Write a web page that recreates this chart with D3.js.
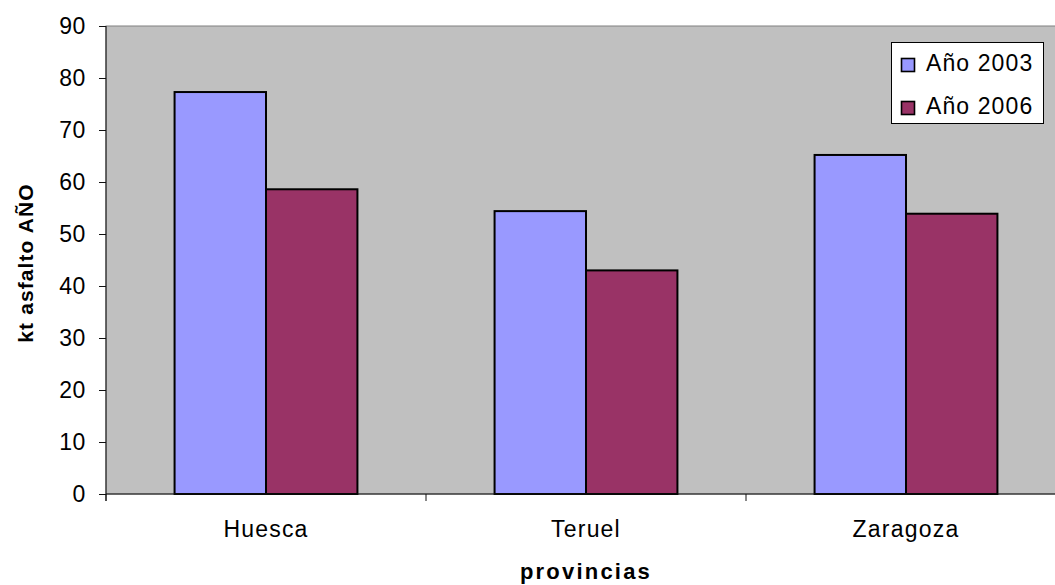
<!DOCTYPE html>
<html><head><meta charset="utf-8">
<script src="https://cdn.jsdelivr.net/npm/d3@7"></script>
<style>body{margin:0;background:#fff;overflow:hidden}text{font-family:"Liberation Sans",Arial,sans-serif}</style>
</head><body>
<svg id="c" width="1055" height="585"></svg>
<script>
const categories = ["Huesca", "Teruel", "Zaragoza"];
const seriesNames = ["Año 2003", "Año 2006"];
const values2003 = [77.3, 54.4, 65.2];
const values2006 = [58.6, 43.0, 53.9];
const yTicks = [0, 10, 20, 30, 40, 50, 60, 70, 80, 90];
const colors = ["#9999FF", "#993366"];
const series = [values2003, values2006];

const svg = d3.select("#c");
const L = 106, R = 1066, T = 26, B = 494;
const x = d3.scaleBand().domain(categories).range([L, R]).paddingInner(0).paddingOuter(0);
const y = d3.scaleLinear().domain([0, 90]).range([B, T]);
const bw = x.bandwidth() / 3.5;

svg.append("rect").attr("x", L).attr("y", T).attr("width", R - L).attr("height", B - T)
  .attr("fill", "#C0C0C0").attr("stroke", "#808080").attr("stroke-width", 1);

series.forEach((vals, si) => {
  svg.append("g").selectAll("rect").data(categories).join("rect")
    .attr("x", d => x(d) + x.bandwidth() / 2 - bw + si * bw)
    .attr("y", (d, i) => y(vals[i]))
    .attr("width", bw)
    .attr("height", (d, i) => B - y(vals[i]))
    .attr("fill", colors[si]).attr("stroke", "#000").attr("stroke-width", 2);
});

// y axis
const ya = svg.append("g").attr("transform", `translate(${L},0)`)
  .call(d3.axisLeft(y).tickValues(yTicks).tickSize(7).tickPadding(13));
ya.select(".domain").attr("stroke", "#111").attr("d", `M0,${B + 7}V${T}`);
ya.selectAll(".tick line").attr("stroke", "#111");
ya.selectAll("text").attr("font-size", 23).attr("fill", "#000").style("letter-spacing", "0.6px")
  .style("font-family", '"Liberation Sans",Arial,sans-serif');

// x axis
const xa = svg.append("g").attr("transform", `translate(0,${B})`);
xa.append("line").attr("x1", L).attr("x2", R).attr("stroke", "#111");
xa.selectAll("line.t").data(categories.concat(["end"])).join("line").attr("class", "t")
  .attr("x1", (d, i) => L + i * x.bandwidth()).attr("x2", (d, i) => L + i * x.bandwidth())
  .attr("y1", 0).attr("y2", 7).attr("stroke", "#111");
xa.selectAll("text").data(categories).join("text")
  .attr("x", d => x(d) + x.bandwidth() / 2).attr("y", 43)
  .attr("text-anchor", "middle").attr("font-size", 23).style("letter-spacing", "1.2px")
  .text(d => d);

// axis titles
svg.append("text").attr("x", (L + R) / 2).attr("y", 579).attr("text-anchor", "middle")
  .attr("font-size", 22).attr("font-weight", "bold").style("letter-spacing", "2.2px").text("provincias");
svg.append("text").attr("transform", `translate(33,${(T + B) / 2 + 3}) rotate(-90)`)
  .attr("text-anchor", "middle").attr("font-size", 21).attr("font-weight", "bold")
  .style("letter-spacing", "1.1px").text("kt asfalto AÑO");

// legend
const lg = svg.append("g");
lg.append("rect").attr("x", 891.5).attr("y", 42.5).attr("width", 152).attr("height", 81)
  .attr("fill", "#fff").attr("stroke", "#000").attr("stroke-width", 1);
seriesNames.forEach((n, i) => {
  const yy = 58 + i * 43;
  lg.append("rect").attr("x", 901.5).attr("y", yy + 0.5).attr("width", 13).attr("height", 13)
    .attr("fill", colors[i]).attr("stroke", "#000").attr("stroke-width", 1.6);
  lg.append("text").attr("x", 926).attr("y", yy + 13).attr("font-size", 23)
    .style("letter-spacing", "1.1px").text(n);
});
</script>
</body></html>
